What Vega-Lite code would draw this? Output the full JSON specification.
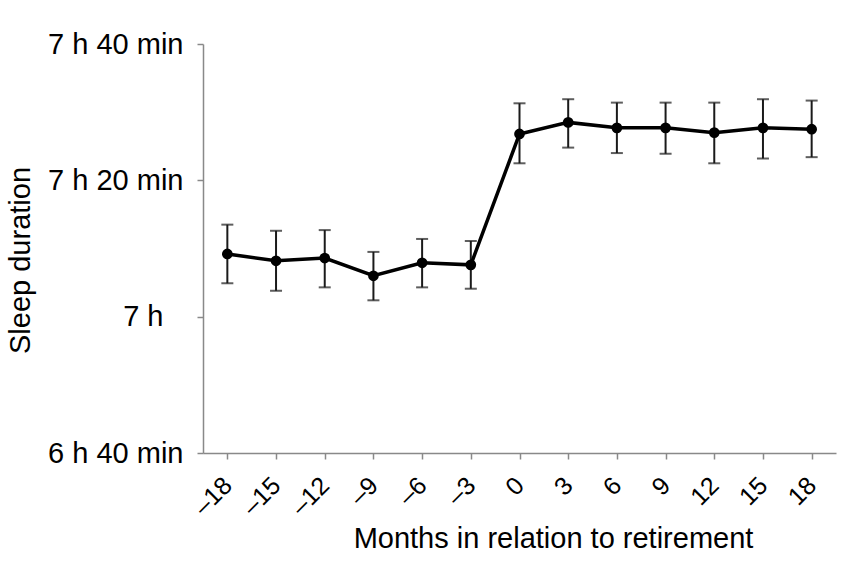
{
  "$schema": "https://vega.github.io/schema/vega-lite/v6.json",
  "autosize": "none",
  "width": 633,
  "height": 409,
  "padding": {"left": 203, "top": 44, "right": 12, "bottom": 110},
  "background": "white",
  "config": {
    "view": {"stroke": null},
    "font": "Liberation Sans",
    "axis": {"grid": false}
  },
  "data": {
    "values": [
      {"month": -18, "mean": 429.2, "lo": 424.9, "hi": 433.5},
      {"month": -15, "mean": 428.2, "lo": 423.8, "hi": 432.6},
      {"month": -12, "mean": 428.6, "lo": 424.3, "hi": 432.7},
      {"month": -9, "mean": 426.0, "lo": 422.4, "hi": 429.5},
      {"month": -6, "mean": 427.9, "lo": 424.3, "hi": 431.4},
      {"month": -3, "mean": 427.6, "lo": 424.1, "hi": 431.1},
      {"month": 0, "mean": 446.8, "lo": 442.5, "hi": 451.3},
      {"month": 3, "mean": 448.5, "lo": 444.8, "hi": 451.9},
      {"month": 6, "mean": 447.7, "lo": 444.0, "hi": 451.4},
      {"month": 9, "mean": 447.7, "lo": 443.9, "hi": 451.4},
      {"month": 12, "mean": 447.0, "lo": 442.5, "hi": 451.4},
      {"month": 15, "mean": 447.7, "lo": 443.2, "hi": 451.9},
      {"month": 18, "mean": 447.5, "lo": 443.4, "hi": 451.7}
    ]
  },
  "encoding": {
    "x": {
      "field": "month",
      "type": "ordinal",
      "sort": "ascending",
      "scale": {"type": "point", "padding": 0.5},
      "axis": {
        "title": "Months in relation to retirement",
        "titleFontSize": 29,
        "titleFontWeight": "normal",
        "titleColor": "black",
        "titleX": 350,
        "titleY": 94,
        "titleAlign": "center",
        "titleBaseline": "alphabetic",
        "labelExpr": "datum.value < 0 ? '–' + abs(datum.value) : datum.label",
        "labelAngle": -45,
        "labelAlign": "right",
        "labelBaseline": "middle",
        "labelFontSize": 25,
        "labelColor": "black",
        "labelPadding": 22,
        "tickSize": 6,
        "tickColor": "#898989",
        "tickWidth": 1.5,
        "domainColor": "#898989",
        "domainWidth": 1.5
      }
    }
  },
  "layer": [
    {
      "mark": {"type": "rule", "color": "#1a1a1a", "strokeWidth": 2},
      "encoding": {
        "y": {"field": "lo", "type": "quantitative"},
        "y2": {"field": "hi"}
      }
    },
    {
      "mark": {"type": "tick", "color": "#1a1a1a", "size": 12, "thickness": 2},
      "encoding": {"y": {"field": "lo", "type": "quantitative"}}
    },
    {
      "mark": {"type": "tick", "color": "#1a1a1a", "size": 12, "thickness": 2},
      "encoding": {"y": {"field": "hi", "type": "quantitative"}}
    },
    {
      "mark": {"type": "line", "color": "black", "strokeWidth": 3.5},
      "encoding": {
        "y": {
          "field": "mean",
          "type": "quantitative",
          "scale": {"domain": [400, 460], "nice": false, "zero": false},
          "axis": {
            "title": "Sleep duration",
            "titleFontSize": 29,
            "titleFontWeight": "normal",
            "titleColor": "black",
            "titleX": -168,
            "titleY": 216,
            "titleAlign": "center",
            "titleBaseline": "bottom",
            "values": [400, 420, 440, 460],
            "labelExpr": "datum.value == 460 ? '7 h 40 min' : datum.value == 440 ? '7 h 20 min' : datum.value == 420 ? '7 h' : '6 h 40 min'",
            "labelFontSize": 29,
            "labelColor": "black",
            "labelPadding": {"condition": {"test": "datum.value == 420", "value": 34}, "value": 14},
            "labelBaseline": "middle",
            "tickSize": 6,
            "tickColor": "#898989",
            "tickWidth": 1.5,
            "domainColor": "#898989",
            "domainWidth": 1.5
          }
        }
      }
    },
    {
      "mark": {"type": "point", "filled": true, "color": "black", "opacity": 1, "size": 115, "shape": "circle"},
      "encoding": {"y": {"field": "mean", "type": "quantitative"}}
    }
  ]
}
